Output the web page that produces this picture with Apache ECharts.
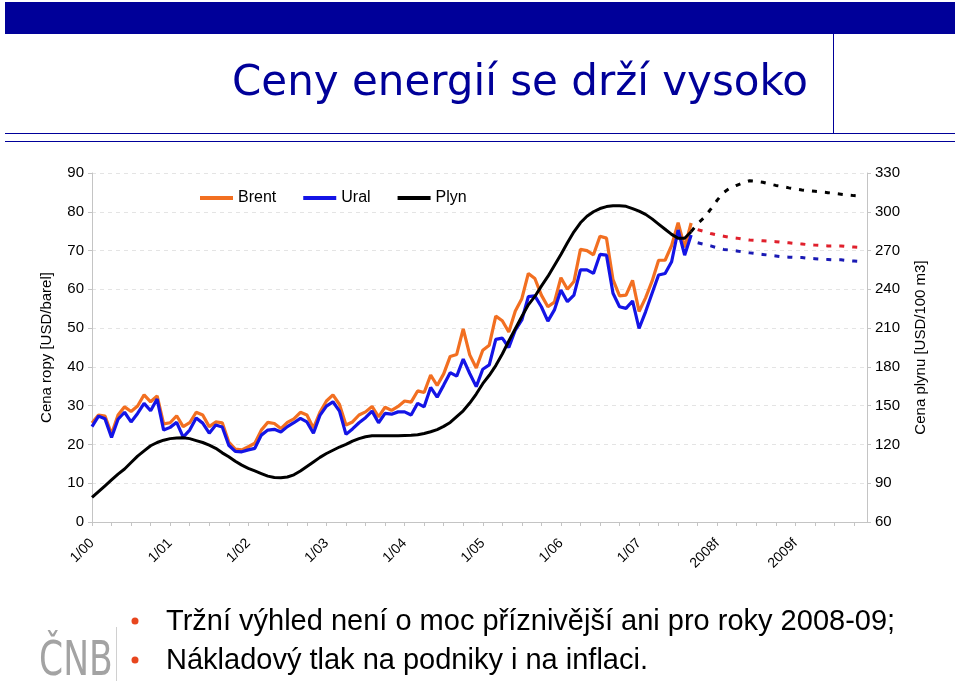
<!DOCTYPE html>
<html>
<head>
<meta charset="utf-8">
<script src="https://cdn.jsdelivr.net/npm/echarts@6/dist/echarts.min.js"></script>
<style>
  html, body { margin: 0; padding: 0; background: #fff; }
  #chart { width: 960px; height: 681px; }
</style>
</head>
<body>
<div id="chart"></div>
<script>
// months 1/2000 .. 12/2009
const years = ["00", "01", "02", "03", "04", "05", "06", "07", "08", "09"];
const tickLabels = ["1/00", "1/01", "1/02", "1/03", "1/04", "1/05", "1/06", "1/07", "2008f", "2009f"];

// Brent, USD/barel, 1/00 .. 9/07
const brent = [
  25.5, 27.6, 27.3, 22.7, 27.6, 29.7, 28.5, 29.9, 32.8, 31.0, 32.5, 25.3,
  25.6, 27.4, 24.6, 25.6, 28.3, 27.6, 24.6, 25.8, 25.6, 20.6, 18.8, 18.6,
  19.4, 20.3, 23.7, 25.7, 25.4, 24.1, 25.7, 26.6, 28.3, 27.6, 24.2, 28.3,
  31.2, 32.8, 30.3, 25.0, 25.8, 27.6, 28.4, 29.8, 27.1, 29.6, 28.8, 29.8,
  31.2, 30.9, 33.8, 33.4, 37.9, 35.2, 38.2, 42.7, 43.2, 49.8, 43.1, 39.7,
  44.3, 45.6, 53.1, 51.9, 49.0, 54.4, 57.6, 64.1, 62.8, 58.5, 55.5, 56.7,
  63.0, 60.0, 62.0, 70.3, 70.0, 68.9, 73.7, 73.2, 62.5, 58.3, 58.5, 62.3,
  54.3, 57.8, 62.1, 67.5, 67.5, 71.3, 77.2, 70.8, 77.1
];

// Ural, USD/barel, 1/00 .. 9/07
const ural = [
  24.6, 27.3, 26.6, 21.8, 26.5, 28.3, 25.8, 28.0, 30.6, 28.7, 31.7, 23.7,
  24.4, 25.7, 21.9, 23.7, 26.8, 25.5, 22.9, 25.0, 24.5, 19.8, 18.2, 18.1,
  18.6, 19.0, 22.4, 23.7, 23.9, 23.2, 24.6, 25.6, 26.7, 25.8, 22.9, 27.5,
  29.9, 31.0, 28.6, 22.6, 24.0, 25.6, 26.9, 28.6, 25.6, 28.0, 27.8, 28.4,
  28.4, 27.6, 30.6, 29.7, 34.7, 32.2, 35.3, 38.5, 37.6, 42.0, 38.3, 34.9,
  39.4, 40.5, 47.1, 47.4, 45.0, 49.5, 52.1, 58.1, 58.3, 55.5, 51.8, 54.7,
  59.8, 56.8, 58.5, 65.0, 65.0, 64.1, 69.0, 68.8, 59.0, 55.5, 55.1, 57.0,
  49.9, 54.2, 59.0, 63.7, 64.1, 67.1, 75.3, 68.8, 74.0
];

// Plyn, USD/100 m3, 1/00 .. 9/07
const gas = [
  79, 83.5, 88, 92.5, 97, 101, 106, 111, 115, 119, 121.5, 123.3,
  124.5, 125, 125.2, 124.5, 123, 121.5, 119.5, 117, 113.5, 110.5, 107, 104,
  101.5, 99.5, 97.5, 95.5, 94.5, 94.3, 94.8, 96.5, 99.5, 103, 106.5, 110,
  113, 115.5, 118, 120, 122.5, 124.5, 126, 126.7, 126.8, 126.8, 126.8, 126.8,
  127, 127.2, 127.5, 128.5, 129.8, 131.5, 134, 137, 141.5, 146, 152, 159,
  167, 173.5, 181, 190, 200, 209.5, 219, 228, 234.5, 242.5, 250, 258.5,
  267, 276, 284.5, 291.5, 296.5, 300, 302.5, 304, 304.7, 304.7, 304.2, 302.5,
  300.5, 298, 294.5, 290.5, 286.5, 282.5, 279.5, 279.5, 284.6
];

// forecasts (dotted), 10/07 .. 11/09
const forecastStart = 93;
const brentForecast = [
  75.4, 74.9, 74.4, 74.0, 73.7, 73.4, 73.2, 72.9, 72.7, 72.6, 72.5, 72.4, 72.3,
  72.1, 72.0, 71.8, 71.7, 71.5, 71.4, 71.3, 71.2, 71.2, 71.2, 71.0, 70.9, 70.8
];
const uralForecast = [
  72.0, 71.6, 71.2, 70.7, 70.3, 70.1, 69.9, 69.6, 69.4, 69.2, 69.0, 68.8, 68.6,
  68.4, 68.3, 68.2, 68.2, 68.0, 67.9, 67.8, 67.7, 67.6, 67.6, 67.4, 67.3, 67.2
];
// gas forecast continues from the last actual point (9/07)
const gasForecastStart = 92;
const gasForecast = [
  284.6, 291, 295.5, 302, 309, 315, 318.5, 320.5, 322.5, 324, 323.5, 322.8, 321.5,
  320.4, 319.5, 318.5, 317.6, 316.9, 316.3, 315.8, 315.3, 314.8, 314.2, 313.6, 313, 312.5, 312.2
];

const months = [];
years.forEach(y => { for (let m = 1; m <= 12; m++) months.push(m + "/" + y); });

function pad(values, start) {
  const out = new Array(months.length).fill(null);
  values.forEach((v, i) => { out[start + i] = v; });
  return out;
}

const FONT = '"Liberation Sans", Arial, sans-serif';
const NAVY = "#000099";

const chart = echarts.init(document.getElementById("chart"));

const option = {
  animation: false,
  textStyle: { fontFamily: FONT, color: "#000" },
  legend: {
    data: ["Brent", "Ural", "Plyn"],
    left: 195,
    top: 185,
    icon: "rect",
    itemWidth: 33,
    itemHeight: 4,
    itemGap: 27,
    textStyle: { fontSize: 16, color: "#000" },
  },
  grid: { left: 92, right: 93, top: 173, bottom: 159 },
  xAxis: {
    type: "category",
    data: months,
    boundaryGap: false,
    axisLine: { lineStyle: { color: "#c4c4c4", width: 1 } },
    axisTick: {
      show: true,
      length: 4,
      interval: (i) => i % 3 === 0,
      lineStyle: { color: "#c4c4c4" },
    },
    axisLabel: {
      interval: (i) => i % 12 === 0,
      rotate: 45,
      margin: 19,
      fontSize: 14,
      color: "#000",
      formatter: (v, i) => tickLabels[Math.floor(i / 12)],
    },
    splitLine: { show: false },
  },
  yAxis: [
    {
      type: "value",
      position: "left",
      min: 0,
      max: 90,
      interval: 10,
      name: "Cena ropy [USD/barel]",
      nameLocation: "middle",
      nameRotate: 90,
      nameGap: 38,
      nameTextStyle: { fontSize: 15, color: "#000" },
      axisLine: { show: true, lineStyle: { color: "#c4c4c4" } },
      axisTick: { show: true, length: 4, lineStyle: { color: "#c4c4c4" } },
      axisLabel: { fontSize: 15, color: "#000", margin: 8 },
      splitLine: { show: true, lineStyle: { type: [4, 4], color: "#e4e4e4" } },
    },
    {
      type: "value",
      position: "right",
      min: 60,
      max: 330,
      interval: 30,
      name: "Cena plynu [USD/100 m3]",
      nameLocation: "middle",
      nameRotate: 90,
      nameGap: 46,
      nameTextStyle: { fontSize: 15, color: "#000" },
      axisLine: { show: true, lineStyle: { color: "#c4c4c4" } },
      axisTick: { show: true, length: 4, lineStyle: { color: "#c4c4c4" } },
      axisLabel: { fontSize: 15, color: "#000", margin: 8 },
      splitLine: { show: false },
    },
  ],
  series: [
    {
      name: "Brent",
      type: "line",
      data: pad(brent, 0),
      symbol: "none",
      color: "#F26F21",
      lineStyle: { width: 3.2 },
    },
    {
      name: "Ural",
      type: "line",
      data: pad(ural, 0),
      symbol: "none",
      color: "#1414E6",
      lineStyle: { width: 3.2 },
    },
    {
      name: "Plyn",
      type: "line",
      yAxisIndex: 1,
      data: pad(gas, 0),
      symbol: "none",
      color: "#000000",
      lineStyle: { width: 3 },
    },
    {
      name: "Brent výhled",
      type: "line",
      data: pad(brentForecast, forecastStart),
      symbol: "none",
      color: "#E0202C",
      lineStyle: { width: 3, type: [5, 8] },
    },
    {
      name: "Ural výhled",
      type: "line",
      data: pad(uralForecast, forecastStart),
      symbol: "none",
      color: "#1A1AB4",
      lineStyle: { width: 3, type: [5, 8] },
    },
    {
      name: "Plyn výhled",
      type: "line",
      yAxisIndex: 1,
      data: pad(gasForecast, gasForecastStart),
      symbol: "none",
      color: "#000000",
      lineStyle: { width: 3, type: [5, 8] },
    },
  ],
  graphic: [
    { type: "rect", shape: { x: 5, y: 2, width: 950, height: 32 }, style: { fill: NAVY } },
    { type: "line", shape: { x1: 833.5, y1: 34, x2: 833.5, y2: 133 }, style: { stroke: NAVY, lineWidth: 1 } },
    { type: "line", shape: { x1: 5, y1: 133.5, x2: 955, y2: 133.5 }, style: { stroke: NAVY, lineWidth: 1 } },
    { type: "line", shape: { x1: 5, y1: 141.5, x2: 955, y2: 141.5 }, style: { stroke: NAVY, lineWidth: 1 } },
    {
      type: "text",
      x: 520,
      y: 84,
      style: {
        text: "Ceny energií se drží vysoko",
        font: '42px "DejaVu Sans", Verdana, sans-serif',
        fill: NAVY,
        align: "center",
        verticalAlign: "middle",
        shadowColor: "rgba(110,110,130,0.6)",
        shadowOffsetX: 2,
        shadowOffsetY: 2,
        shadowBlur: 2,
      },
    },
    { type: "circle", shape: { cx: 135, cy: 621, r: 3.5 }, style: { fill: "#E8461E" } },
    { type: "circle", shape: { cx: 135, cy: 660, r: 3.5 }, style: { fill: "#E8461E" } },
    {
      type: "text",
      x: 166,
      y: 622,
      style: {
        text: "Tržní výhled není o moc příznivější ani pro roky 2008-09;",
        font: "29px " + FONT,
        fill: "#000",
        verticalAlign: "middle",
      },
    },
    {
      type: "text",
      x: 166,
      y: 661,
      style: {
        text: "Nákladový tlak na podniky i na inflaci.",
        font: "29px " + FONT,
        fill: "#000",
        verticalAlign: "middle",
      },
    },
    {
      type: "text",
      x: 39,
      y: 687,
      scaleX: 0.8,
      style: {
        text: "ČNB",
        font: '48px "Liberation Sans Narrow", "DejaVu Sans Condensed", ' + FONT,
        fill: "#a3a3a3",
        verticalAlign: "bottom",
      },
    },
    { type: "line", shape: { x1: 116.5, y1: 627, x2: 116.5, y2: 681 }, style: { stroke: "#d0d0d0", lineWidth: 1 } },
  ],
};

chart.setOption(option);
window.addEventListener("resize", () => chart.resize());
</script>
</body>
</html>
